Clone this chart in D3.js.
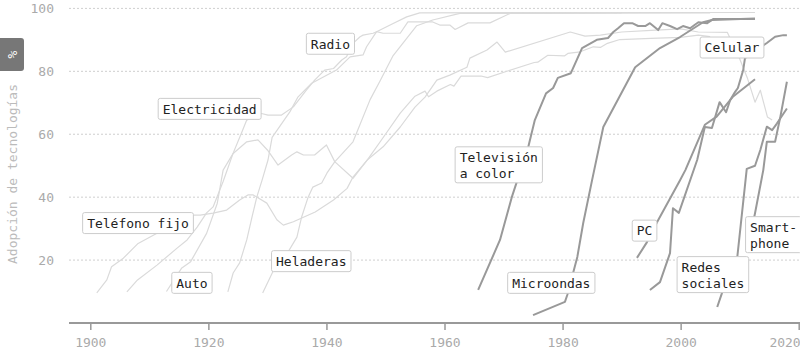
<!DOCTYPE html>
<html><head><meta charset="utf-8">
<script src="https://cdn.jsdelivr.net/npm/d3@7"></script>
<style>
html,body{margin:0;padding:0;background:#fff;}
svg{display:block;font-family:"DejaVu Sans Mono",monospace;}
</style></head>
<body><svg id="chart" width="800" height="358"></svg>
<script>
// ---- data (year, % of households) ----
const telefonoFijo = [[1901.1,9.6],[1902.8,13.7],[1903.6,17.9],[1905.6,20.6],[1908.1,25.3],[1911.3,28.5],[1914.1,31.1],[1916.5,34.3],[1918.6,34.3],[1920.8,34.9],[1923.1,35.9],[1925.3,39.1],[1926.7,40.7],[1927.6,40.7],[1929.9,38.1],[1931.6,32.8],[1932.7,31.1],[1934.4,32.2],[1938.1,35.3],[1941.2,39.1],[1943.5,42.8],[1944.5,46.4],[1946.9,51.8],[1949.6,56],[1952.5,62.3],[1955,68.6],[1956.7,71.8],[1958.7,77.2],[1960.9,78.8],[1963.8,81.3],[1964.3,84.2],[1967.2,86.8],[1968.9,89.3],[1970.3,86.1],[1981.3,92.5],[1983.8,91.2],[1986.4,91.5],[1990,92.5],[1995,93],[2000,93.5],[2003,92.5],[2007.9,92.4],[2010,84],[2011.3,77.9],[2012.6,70.2],[2013.5,74],[2014.7,65.5],[2015.5,64.5]];
const electricidad = [[1906.2,9.9],[1908,13.7],[1911.3,18.4],[1914.7,23.8],[1916.4,26.4],[1918.1,30.5],[1919.7,35],[1920.8,36.9],[1922.5,45],[1924.2,54],[1925.8,61.3],[1926.5,64.5],[1929,66.6],[1930.1,66.1],[1932.4,66.1],[1934.4,68.7],[1936.6,74],[1938,77.2],[1939.7,80.4],[1941.2,80.9],[1942.6,83.6],[1943.4,84.6],[1944.5,88.9],[1945.7,91],[1946.2,91.5],[1947.9,92.1],[1948.5,92.6],[1951.3,95.2],[1953.6,97.3],[1955.8,98.6],[2012.6,98.7]];
const auto = [[1912.9,10],[1915.5,17.5],[1917,19.5],[1919.7,28.5],[1921.5,38],[1922.5,48.6],[1924.2,53.9],[1926.5,57.6],[1928.4,58.2],[1930,55],[1931.8,50.2],[1934.1,53.4],[1935,54.4],[1936.1,53.4],[1938,53.4],[1940,56.6],[1941.4,51.3],[1944.5,46],[1947,52],[1950,60],[1952.5,66.7],[1955,72.1],[1956.7,73.7],[1957.3,71.9],[1958.7,73.7],[1961,75.8],[1961.6,75.3],[1962.8,78.5],[1966.2,78.5],[1967.3,78],[1970.7,80.1],[1975.2,82.8],[1975.8,82.9],[1977.5,85.1],[1980.3,84.9],[1980.9,85.7],[1983,86.2],[1985.2,87.8],[1986.4,87.6],[1987.6,88.9],[1989.7,90.1],[1995,90.5],[2000,90.8],[2003,91.5],[2005,91]];
const radio = [[1923.3,9.9],[1924.2,15.9],[1925.3,19.1],[1926.5,26.4],[1927.4,33.7],[1928.2,40],[1929.1,45.4],[1930.1,51.8],[1930.8,59],[1933.8,67.1],[1935.2,71.9],[1937.5,76.2],[1941.7,80.4],[1944,84.6],[1946.2,85.2],[1946.8,87.8],[1948.5,92.6],[1949.6,92.1],[1952.5,92.1],[1953.8,95.7],[1958,95.7],[1959.2,94.7],[1960.9,94.7],[1961.8,93.3],[1964,95.4],[1967.7,95.4],[1971.1,98.4],[1990,98.6]];
const heladeras = [[1929.2,9.5],[1930.9,16.2],[1933,21],[1935,27.3],[1935.8,33.7],[1936.9,40],[1937.7,43.2],[1939.2,44.5],[1940.1,47.7],[1941.4,51.2],[1944.5,57.6],[1947.4,71],[1949.1,77],[1951.3,85],[1953.6,90.5],[1955.3,94.5],[1958,96.3],[1962.6,98.4],[2005,98.6]];
const televisionColor = [[1965.7,10.5],[1969.4,26.4],[1971.4,40],[1974.2,56],[1975.3,64.5],[1977.2,73],[1978.4,74.7],[1979.2,77.9],[1981.4,79.4],[1983.3,87.4],[1985.8,90],[1987.7,90.6],[1988.6,92.5],[1989.4,93.7],[1990.4,95.3],[1991.8,95.3],[1992.8,94.4],[1994,94.4],[1994.8,95.3],[1996.2,93.1],[1996.9,95.3],[1998.2,94.4],[1999.4,93.4],[2000.4,94.4],[2001.6,93.7],[2003,95.6],[2004.5,95.3],[2005.5,96.6],[2012.6,96.6]];
const microondas = [[1975,2.5],[1980.4,6.7],[1980.8,8.9],[1982.5,21],[1983.5,31.8],[1985,45.4],[1986.9,62.3],[1992.3,81.3],[1996.5,87.4],[1999.9,90.9],[2003.8,95.6],[2005.3,96.3],[2012.6,96.8]];
const pc = [[1992.6,20.7],[1994.3,25.7],[1996,32],[1999.9,45.4],[2000.8,48.6],[2004.1,63],[2006.1,65.6],[2008.9,72],[2012.6,77.5]];
const celular = [[1994.8,10.5],[1996.5,13],[1998.2,22.2],[1998.7,36.5],[1999.7,35],[2002.8,51.8],[2004.1,62.3],[2005.3,62],[2006.6,70.2],[2007.7,67],[2008.4,70.9],[2009.2,73.4],[2009.7,74.7],[2010.6,80.4],[2010.9,84.2],[2014.6,89],[2016,91],[2017.4,91.5],[2018,91.5]];
const redesSociales = [[2006.2,5.1],[2007,9.5],[2009.6,21],[2011.2,49],[2012.6,50],[2013.5,55],[2014.6,62.4],[2015.5,61.3],[2016.3,63.4],[2018,68.2]];
const smartphone = [[2011.5,25],[2012.6,34.9],[2014,48.6],[2014.6,57.6],[2016,57.6],[2016.9,65.6],[2018,76.7]];

const lightSeries = [telefonoFijo, electricidad, auto, radio, heladeras];
const darkSeries = [televisionColor, microondas, pc, celular, redesSociales, smartphone];

// labels: text lines and anchor (top-left corner in data units)
const labelLines = [["Electricidad"],["Radio"],["Teléfono fijo"],["Auto"],["Heladeras"],["Televisión","a color"],["Microondas"],["PC"],["Celular"],["Redes","sociales"],["Smart-","phone"]];
const labelYears = [1911.5,1936.6,1898.7,1913.8,1930.7,1961.8,1970.7,1991.8,2003.3,1999.4,2011];
const labelValues = [71.4,92.1,35.1,16.1,23,56,16.1,32.7,90.9,21.1,33.8];

const xTicks = [1900,1920,1940,1960,1980,2000,2020];
const yTicks = [20,40,60,80,100];
const yTitle = "Adopción de tecnologías";
const unitText = "%";

// ---- drawing ----
const svg = d3.select("#chart");
const x = d3.scaleLinear().domain([1900,2020]).range([90.3,798.7]);
const y = d3.scaleLinear().domain([0,100]).range([323,8.4]);
const plotLeft = 69, plotRight = 800;

// grid
svg.append("g").selectAll("line").data(yTicks).join("line")
  .attr("x1",plotLeft).attr("x2",plotRight)
  .attr("y1",d=>y(d)).attr("y2",d=>y(d))
  .attr("stroke","#cfcfcf").attr("stroke-width",1).attr("stroke-dasharray","2,2");

// y tick labels
svg.append("g").selectAll("text").data(yTicks).join("text")
  .attr("x",54).attr("y",d=>y(d)).attr("dy","0.35em")
  .attr("text-anchor","end").attr("font-size",13).attr("fill","#aaa")
  .text(d=>d);

// x axis
const xAxis = d3.axisBottom(x).tickValues(xTicks).tickFormat(d3.format("d")).tickSize(7).tickPadding(8);
const gx = svg.append("g").attr("transform",`translate(0,${y(0)})`).call(xAxis);
gx.select(".domain").remove();
gx.selectAll(".tick line").attr("stroke","#999").attr("stroke-width",1.5);
gx.selectAll(".tick text").attr("fill","#aaa").attr("font-size",13).attr("font-family","DejaVu Sans Mono, monospace");
gx.selectAll(".tick text").filter(d=>d===2020).attr("text-anchor","end").attr("x",1.5);
svg.append("line").attr("x1",plotLeft).attr("x2",plotRight).attr("y1",y(0)).attr("y2",y(0))
  .attr("stroke","#999").attr("stroke-width",2);

// y title
svg.append("text").attr("transform",`translate(17,174) rotate(-90)`)
  .attr("text-anchor","middle").attr("font-size",13).attr("fill","#bbb").text(yTitle);
svg.append("rect").attr("x",-4).attr("y",38).attr("width",28).attr("height",33).attr("rx",3).attr("fill","#777");
svg.append("text").attr("transform","translate(12,54.5) rotate(-90)").attr("text-anchor","middle")
  .attr("dy","0.35em").attr("font-size",13).attr("fill","#fff").text(unitText);

// lines
const line = d3.line().x(d=>x(d[0])).y(d=>y(d[1]));
svg.append("g").selectAll("path").data(lightSeries).join("path")
  .attr("d",line).attr("fill","none").attr("stroke","#dadada").attr("stroke-width",1.2).attr("stroke-linejoin","round");
svg.append("g").selectAll("path").data(darkSeries).join("path")
  .attr("d",line).attr("fill","none").attr("stroke","#999").attr("stroke-width",2).attr("stroke-linejoin","round");

// labels
const lg = svg.append("g");
labelLines.forEach((lines,i)=>{
  const g = lg.append("g").attr("transform",`translate(${x(labelYears[i])},${y(labelValues[i])})`);
  const rect = g.append("rect").attr("fill","#fff").attr("stroke","#ccc").attr("stroke-width",1).attr("rx",2);
  const t = g.append("text").attr("font-size",13).attr("fill","#222");
  lines.forEach((s,j)=>{
    t.append("tspan").attr("x",4.5).attr("y",15.3+j*16).text(s);
  });
  const w = d3.max(t.selectAll("tspan").nodes(),n=>n.getComputedTextLength());
  rect.attr("width",w+9).attr("height",lines.length===1?21:36);
});
</script>
</body></html>
